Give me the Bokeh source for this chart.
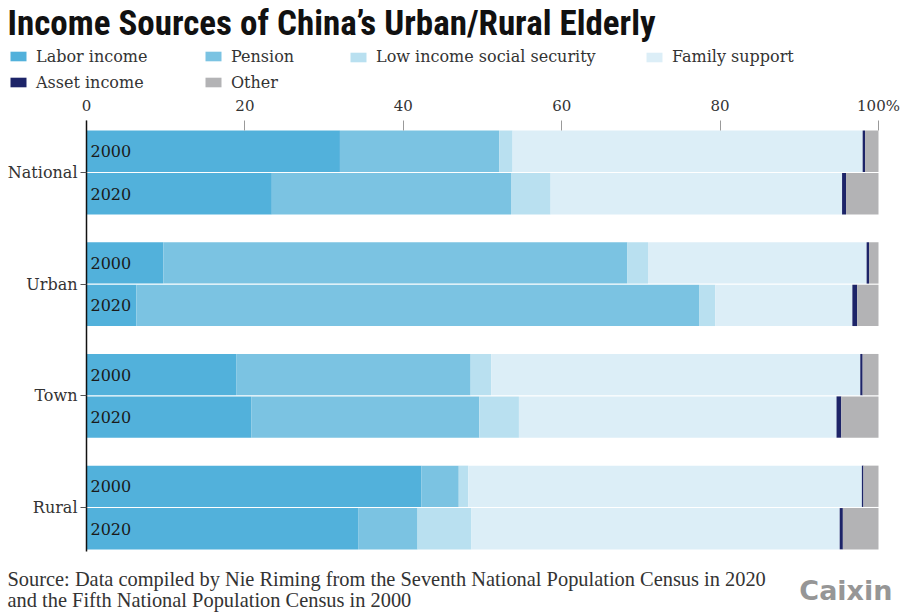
from bokeh.plotting import figure
from bokeh.models import ColumnDataSource, Range1d, FixedTicker, Legend, LegendItem, Label
from bokeh.core.properties import value
from bokeh.embed import file_html
from bokeh.resources import INLINE

# ---------------- data ----------------
regions = ["National", "Urban", "Town", "Rural"]
years = ["2000", "2020"]
series = ["Labor income", "Pension", "Low income social security",
          "Family support", "Asset income", "Other"]
colors = ["#52b1db", "#7bc3e2", "#b9e0f0", "#dceef7", "#1d2468", "#b3b3b5"]

# order: National 2000, National 2020, Urban 2000, Urban 2020,
#        Town 2000, Town 2020, Rural 2000, Rural 2020   (percent)
labor      = [32.0, 23.4,  9.7,  6.3, 18.9, 20.8, 42.3, 34.3]
pension    = [20.1, 30.2, 58.6, 71.1, 29.6, 28.8,  4.7,  7.5]
low_income = [ 1.7,  5.0,  2.6,  2.0,  2.6,  5.0,  1.2,  6.8]
family     = [44.2, 36.8, 27.6, 17.3, 46.6, 40.1, 49.7, 46.5]
asset      = [ 0.3,  0.5,  0.3,  0.6,  0.3,  0.6,  0.2,  0.4]
other      = [ 1.7,  4.1,  1.2,  2.7,  2.0,  4.7,  1.9,  4.5]

x_ticks = [0, 20, 40, 60, 80, 100]

title_text = "Income Sources of China\u2019s Urban/Rural Elderly"
source_line1 = "Source: Data compiled by Nie Riming from the Seventh National Population Census in 2020"
source_line2 = "and the Fifth National Population Census in 2000"
logo_text = "Caixin"

# ---------------- layout (pixels) ----------------
W, H = 900, 613
PX_X0, PX_X100 = 86, 878          # where 0 % and 100 % sit
PX_G0, PX_GSTEP = 172, 111.667    # centre of first group, distance between groups
PX_AX_TOP, PX_AX_BOT = 120, 551   # extent of the axes
SERIF = "DejaVu Serif"
TITLE_FONT = "Liberation Sans Narrow, Roboto Condensed, Roboto, sans-serif"

ppu_x = (PX_X100 - PX_X0) / 100.0
x_start, x_end = -PX_X0 / ppu_x, 100 + (W - PX_X100) / ppu_x
y_top, y_bottom = -PX_G0 / PX_GSTEP, (H - PX_G0) / PX_GSTEP
y_ax_top, y_ax_bot = (PX_AX_TOP - PX_G0) / PX_GSTEP, (PX_AX_BOT - PX_G0) / PX_GSTEP

# ---------------- bars ----------------
BAR_OFFSET = 0.19
BAR_H = 0.37

ys, year_lab, base = [], [], []
for i, r in enumerate(regions):
    for j, yr in enumerate(years):
        ys.append(i + (j - 0.5) * 2 * BAR_OFFSET)
        year_lab.append(yr)
        base.append(0)

keys = ["labor", "pension", "low_income", "family", "asset", "other"]
src = ColumnDataSource(dict(y=ys, year=year_lab, base=base,
                            labor=labor, pension=pension, low_income=low_income,
                            family=family, asset=asset, other=other))

p = figure(width=W, height=H, title=None,
           x_range=Range1d(x_start, x_end), y_range=Range1d(y_bottom, y_top),
           x_axis_location="above",
           output_backend="svg", toolbar_location=None,
           min_border=0, min_border_left=0, min_border_right=0,
           min_border_top=0, min_border_bottom=0)
p.outline_line_color = None
p.xgrid.visible = False
p.ygrid.visible = False

rs = p.hbar_stack(keys, y="y", height=BAR_H, fill_color=colors, line_color=None, source=src)

p.text(x="base", y="y", text="year", source=src, x_offset=4,
       text_font=value(SERIF), text_font_size="16px", text_baseline="middle",
       text_color="#1a1a1a")

# top axis, pinned to the top of the bars
xa = p.xaxis[0]
xa.fixed_location = y_ax_top
xa.bounds = (0, 100)
xa.ticker = FixedTicker(ticks=x_ticks)
xa.major_label_overrides = {100: "100%"}
xa.axis_line_color = None
xa.major_tick_in = 10
xa.major_tick_out = 0
xa.major_tick_line_color = "#9a9a9a"
xa.minor_tick_line_color = None
xa.major_label_standoff = 6
xa.major_label_text_font = SERIF
xa.major_label_text_font_size = "15px"
xa.major_label_text_color = "#333333"

# left axis, pinned at 0 %
ya = p.yaxis[0]
ya.fixed_location = 0
ya.bounds = (y_ax_top, y_ax_bot)
ya.ticker = FixedTicker(ticks=list(range(len(regions))))
ya.major_label_overrides = {i: r for i, r in enumerate(regions)}
ya.axis_line_color = "#111111"
ya.axis_line_width = 1.5
ya.major_tick_out = 6
ya.major_tick_in = 0
ya.major_tick_line_color = "#555555"
ya.minor_tick_line_color = None
ya.major_label_standoff = 3
ya.major_label_text_font = SERIF
ya.major_label_text_font_size = "16px"
ya.major_label_text_color = "#333333"

# ---------------- legend: one block per column ----------------
columns = [[0, 4], [1, 5], [2], [3]]
col_x = [8, 203, 348, 644]
ROW_H, ROW_GAP = 18.6, 7
for col, cx in zip(columns, col_x):
    n = len(col)
    top = 56.7 - ROW_H / 2
    bottom = top + n * ROW_H + (n - 1) * ROW_GAP
    leg = Legend(items=[LegendItem(label=series[k], renderers=[rs[k]]) for k in col],
                 location=(cx, H - bottom), orientation="vertical",
                 glyph_width=20, glyph_height=12, label_height=1, label_width=1,
                 spacing=ROW_GAP, padding=0, margin=0, label_standoff=8,
                 border_line_color=None, background_fill_alpha=0,
                 label_text_font=SERIF, label_text_font_size="16px",
                 label_text_color="#333333")
    p.add_layout(leg)

# ---------------- texts ----------------
p.add_layout(Label(x=7, y=H - 23, x_units="screen", y_units="screen", text=title_text,
                   text_font=TITLE_FONT, text_font_style="bold",
                   text_font_size="35px", text_color="#111111",
                   text_baseline="alphabetic"))
p.add_layout(Label(x=7, y=H - 578, x_units="screen", y_units="screen", text=source_line1,
                   text_font="Liberation Serif", text_font_size="20.4px",
                   text_color="#333333", text_baseline="middle"))
p.add_layout(Label(x=7, y=H - 599, x_units="screen", y_units="screen", text=source_line2,
                   text_font="Liberation Serif", text_font_size="20.4px",
                   text_color="#333333", text_baseline="middle"))
p.add_layout(Label(x=892, y=H - 590, x_units="screen", y_units="screen", text=logo_text,
                   text_font="DejaVu Sans", text_font_style="bold",
                   text_font_size="27px", text_color="#969696",
                   text_align="right", text_baseline="middle"))

open("out.html", "w").write(file_html(p, INLINE))
